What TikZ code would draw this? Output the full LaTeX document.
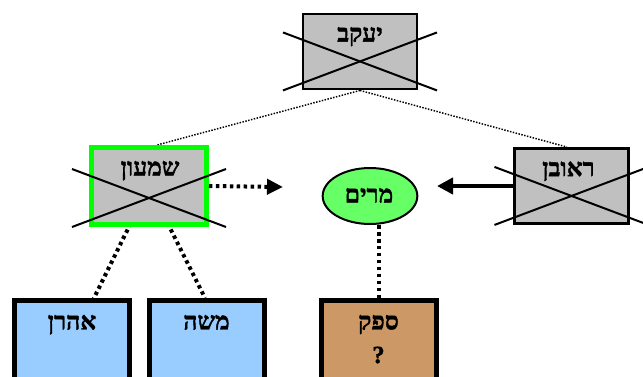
\documentclass[tikz,border=0pt]{standalone}
\usepackage{fontspec}
\usetikzlibrary{arrows.meta,calc,shapes.geometric}
\TeXXeTstate=1
\newfontfamily\heb[Script=Hebrew, BoldFeatures={FakeBold=1.5}]{Liberation Serif}
\definecolor{boxgray}{HTML}{C0C0C0}
\definecolor{brightgreen}{HTML}{00FF00}
\definecolor{ovalgreen}{HTML}{66FF66}
\definecolor{lightblue}{HTML}{99CCFF}
\definecolor{tan}{HTML}{CC9966}
\pgfdeclarelayer{background}
\pgfsetlayers{background,main}
\newcommand{\hb}[1]{{\heb\bfseries\fontsize{18.5}{20}\selectfont\beginR #1\endR}}
\begin{document}
\begin{tikzpicture}[x=0.75pt,y=-0.75pt,
  graybox/.style={draw=black, line width=1.9pt, fill=boxgray, minimum width=85.5pt, minimum height=56.5pt, inner sep=0pt},
  greenbox/.style={draw=brightgreen, line width=3.75pt, fill=boxgray, minimum width=86.25pt, minimum height=57.75pt, inner sep=0pt},
  childbox/.style={draw=black, line width=3.75pt, minimum width=86.25pt, minimum height=63.4pt, inner sep=0pt},
  oval/.style={ellipse, draw=black, line width=1.5pt, fill=ovalgreen, minimum width=71pt, minimum height=42pt, inner sep=0pt},
  label text/.style={anchor=base, inner sep=0pt},
  crossline/.style={draw=black, line width=1.5pt},
  thindot/.style={draw=black, line width=1.1pt, dash pattern=on 1.1pt off 1.1pt},
  thickdot/.style={draw=black, line width=3pt, dash pattern=on 2.6pt off 2.6pt},
  solidarrow/.style={draw=black, line width=3pt, -{Triangle[length=12pt,width=12pt]}},
  dotarrow/.style={thickdot, -{Triangle[length=12pt,width=11.25pt]}}
]
\useasboundingbox (0,0) rectangle (643,376);

% boxes
\node[graybox] (jacob) at (360,51.5) {};
\node[greenbox] (shimon) at (149,186) {};
\node[graybox] (reuven) at (571.5,186) {};
\node[oval] (miriam) at (370,196) {};
\node[childbox, fill=lightblue] (aharon) at (72,342.75) {};
\node[childbox, fill=lightblue] (moshe) at (206.5,342.75) {};
\node[childbox, fill=tan] (spaq) at (378.5,342.75) {};

% texts
\node[label text] (miriamT) at ($(miriam.center)+(-1,6.5)$) {\hb{מרים}};
\node[label text] (jacobT) at ($(jacob.north)+(0,29)$) {\hb{יעקב}};
\node[label text] (shimonT) at ($(shimon.north)+(1,30.5)$) {\hb{שמעון}};
\node[label text] (reuvenT) at ($(reuven.north)+(-3,29)$) {\hb{ראובן}};
\node[label text] (aharonT) at ($(aharon.north)+(0,31.5)$) {\hb{אהרן}};
\node[label text] (mosheT) at ($(moshe.north)+(0,31.5)$) {\hb{משה}};
\node[label text] (spaqT) at ($(spaq.north)+(0,31.5)$) {\hb{ספק}};
\node[label text] (spaqQ) at ($(spaq.north)+(0,65)$) {\hb{?}};

% crosses
\draw[crossline] ($(jacob.south)+(-77,-58)$) -- ($(jacob.south)+(77,0)$);
\draw[crossline] ($(jacob.south)+(-77,0)$) -- ($(jacob.south)+(77,-58)$);
\draw[crossline] ($(shimon.south)+(-77,-58)$) -- ($(shimon.south)+(77,0)$);
\draw[crossline] ($(shimon.south)+(-77,0)$) -- ($(shimon.south)+(77,-58)$);
\draw[crossline] ($(reuven.south)+(-77,-58)$) -- ($(reuven.south)+(77,0)$);
\draw[crossline] ($(reuven.south)+(-77,0)$) -- ($(reuven.south)+(77,-58)$);

% free ends of arrows
\coordinate (dtip) at (283,187);
\coordinate (stip) at (437,186);

% connectors
\begin{pgfonlayer}{background}
\draw[thindot] (jacob.south) -- ($(shimon.north)+(8,0)$);
\draw[thindot] (jacob.south) -- ($(reuven.north)+(-4.5,0)$);
\draw[thickdot] (shimon.center) -- (aharon.center);
\draw[thickdot] (shimon.center) -- ($(moshe.north)+(-1.5,0)$);
\draw[thickdot] (spaq.north) -- (spaq.north |- miriam.center);
\end{pgfonlayer}
\draw[dotarrow] (shimon.east) -- (dtip);
\draw[solidarrow] (reuven.west) -- (stip);
\end{tikzpicture}
\end{document}
